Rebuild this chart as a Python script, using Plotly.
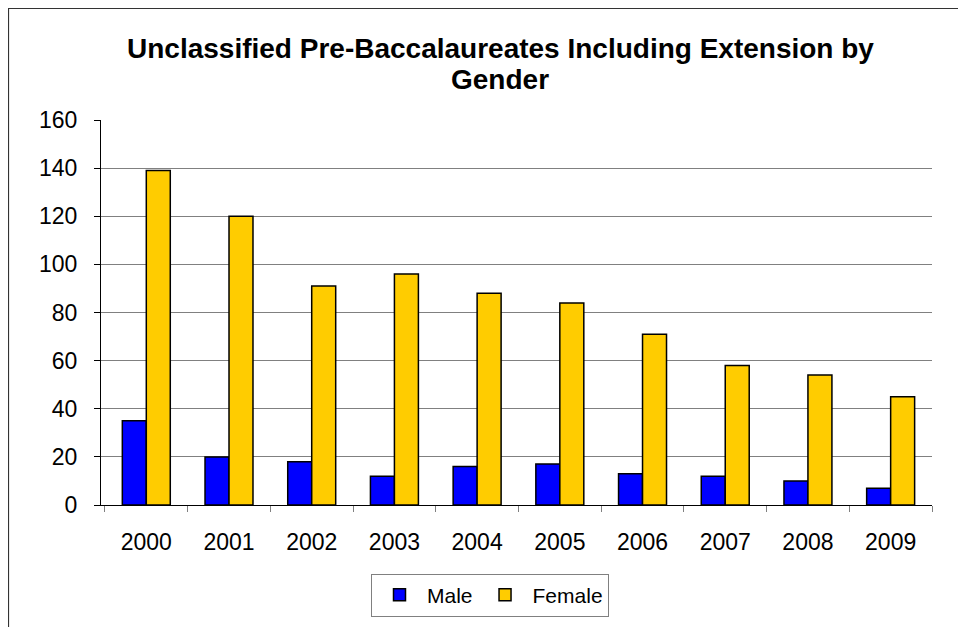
import plotly.graph_objects as go

years = ["2000", "2001", "2002", "2003", "2004", "2005", "2006", "2007", "2008", "2009"]
male = [35, 20, 18, 12, 16, 17, 13, 12, 10, 7]
female = [139, 120, 91, 96, 88, 84, 71, 58, 54, 45]
grid_vals = [20, 40, 60, 80, 100, 120, 140]
tick_vals = [0, 20, 40, 60, 80, 100, 120, 140, 160]
title_lines = ["Unclassified Pre-Baccalaureates Including Extension by", "Gender"]

FONT = "Liberation Sans, Arial, sans-serif"
OFF = 8  # default body margin of the html page
W, H = 966 - OFF, 627 - OFF
L, R, T, B = 101 - OFF, 34, 120 - OFF, 122
pw, ph = W - L - R, H - T - B


def px_x(page_x):
    return (page_x - OFF - L) / pw


def px_y(page_y):
    return (H - B - (page_y - OFF)) / ph


fig = go.Figure()
fig.add_trace(go.Bar(x=years, y=male, name="Male",
                     marker=dict(color="#0000FF", line=dict(color="black", width=1.5))))
fig.add_trace(go.Bar(x=years, y=female, name="Female",
                     marker=dict(color="#FFCC00", line=dict(color="black", width=1.5))))
fig.add_trace(go.Scatter(x=[years[0]], y=[0], yaxis="y2", mode="markers",
                         marker=dict(opacity=0), showlegend=False, hoverinfo="skip"))

annotations = []
for line, cy in zip(title_lines, [48.5, 79.5]):
    annotations.append(dict(
        text="<b>%s</b>" % line, showarrow=False,
        xref="paper", yref="paper", x=px_x(500), y=px_y(cy),
        xanchor="center", yanchor="middle",
        font=dict(family=FONT, size=28, color="black"),
    ))

fig.update_layout(
    width=W, height=H,
    margin=dict(l=L, r=R, t=T, b=B, autoexpand=False),
    paper_bgcolor="white", plot_bgcolor="white",
    barmode="group", bargap=0.42, bargroupgap=0,
    font=dict(family=FONT, size=23, color="black"),
    annotations=annotations,
    xaxis=dict(
        showline=True, linecolor="black", linewidth=1,
        ticks="outside", tickson="boundaries", ticklen=6, tickcolor="#808080",
        showgrid=False, tickfont=dict(size=23), ticklabelstandoff=16,
    ),
    yaxis=dict(
        range=[0, 160], tickvals=grid_vals, showticklabels=False,
        showgrid=True, gridcolor="#808080", gridwidth=1,
        zeroline=False, showline=False, ticks="",
    ),
    yaxis2=dict(
        range=[0, 160], overlaying="y", side="left", anchor="x",
        tickvals=tick_vals, showgrid=False, zeroline=False,
        showline=True, linecolor="black", linewidth=1,
        ticks="outside", ticklen=6, tickcolor="black",
        tickfont=dict(size=23), ticklabelstandoff=12,
    ),
    legend=dict(
        orientation="h", x=px_x(490), xanchor="center",
        y=px_y(595), yanchor="middle",
        bordercolor="#808080", borderwidth=1, bgcolor="white",
        font=dict(size=21), itemwidth=45,
    ),
    showlegend=True,
    shapes=[dict(
        type="rect", xref="paper", yref="paper", layer="below",
        x0=px_x(OFF + 0.5), x1=px_x(1000),
        y0=px_y(700), y1=px_y(OFF + 0.5),
        line=dict(color="#333333", width=1.2), fillcolor="rgba(0,0,0,0)",
    )],
)

fig.write_html("out.html")
